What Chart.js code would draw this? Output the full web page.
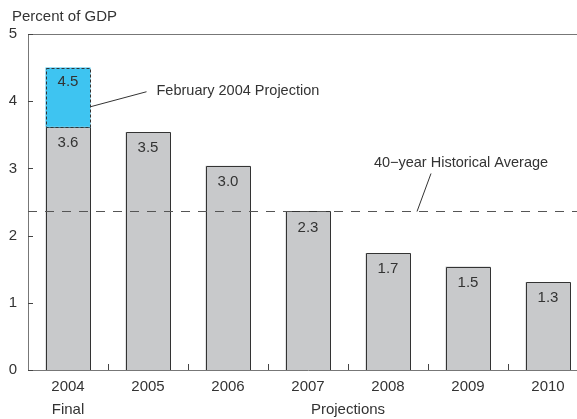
<!DOCTYPE html>
<html>
<head>
<meta charset="utf-8">
<script src="https://cdn.jsdelivr.net/npm/chart.js@4.4.1/dist/chart.umd.min.js"></script>
<style>
  html, body { margin: 0; padding: 0; background: #fff; overflow: hidden; }
  #wrap { width: 577px; height: 419px; overflow: hidden; }
</style>
</head>
<body>
<div id="wrap"><canvas id="gdpChart" width="600" height="419"></canvas></div>
<script>
const years = ["2004", "2005", "2006", "2007", "2008", "2009", "2010"];
const deficit = [3.62, 3.54, 3.04, 2.36, 1.74, 1.54, 1.31];
const deficitLabels = ["3.6", "3.5", "3.0", "2.3", "1.7", "1.5", "1.3"];
const febProjection = [4.5, null, null, null, null, null, null];
const febProjectionLabels = ["4.5", null, null, null, null, null, null];
const historicalAverage = 2.36;
const yTicks = [0, 1, 2, 3, 4, 5];

const FONT = "'Liberation Sans', Arial, sans-serif";
const TEXT = "#333";

const overlay = {
  id: "overlay",
  afterDatasetsDraw(chart) {
    const { ctx, chartArea: a, scales: { x, y } } = chart;
    ctx.save();

    const line = (x1, y1, x2, y2) => {
      ctx.beginPath();
      ctx.moveTo(x1, y1);
      ctx.lineTo(x2, y2);
      ctx.stroke();
    };

    // frame top + inner ticks
    ctx.strokeStyle = "#777";
    ctx.lineWidth = 1;
    line(a.left, a.top + 0.5, a.right, a.top + 0.5);
    ctx.strokeStyle = "#444";
    yTicks.forEach((v) => {
      const py = Math.round(y.getPixelForValue(v)) + 0.5;
      line(a.left, py, a.left + 5, py);
    });
    for (let i = 1; i < years.length; i++) {
      const px = Math.round((x.getPixelForValue(i - 1) + x.getPixelForValue(i)) / 2) + 0.5;
      line(px, a.bottom, px, a.bottom - 6);
    }

    // crisp outlines of the bars (left, top, right)
    ctx.strokeStyle = "#333";
    chart.getDatasetMeta(0).data.forEach((bar) => {
      const p = bar.getProps(["x", "y", "base", "width"], true);
      const l = Math.round(p.x - p.width / 2) + 0.5;
      const r = Math.round(p.x + p.width / 2) - 0.5;
      const t = Math.round(p.y) + 0.5;
      const b = Math.round(p.base);
      ctx.beginPath();
      ctx.moveTo(l, b);
      ctx.lineTo(l, t);
      ctx.lineTo(r, t);
      ctx.lineTo(r, b);
      ctx.stroke();
    });

    // dashed outline of the February projection
    const pm = chart.getDatasetMeta(1);
    ctx.setLineDash([3, 2]);
    pm.data.forEach((bar, i) => {
      if (febProjection[i] == null) return;
      const p = bar.getProps(["x", "y", "base", "width"], true);
      const l = Math.round(p.x - p.width / 2) + 0.5;
      const r = Math.round(p.x + p.width / 2) - 0.5;
      ctx.fillStyle = "#3ec4f1";
      ctx.fillRect(l - 0.5, Math.round(p.base) - 0.5, r - l + 1, 1);
      ctx.strokeRect(l, Math.round(p.y) + 0.5, r - l, Math.round(p.base) - Math.round(p.y));
    });
    ctx.setLineDash([]);

    // value labels
    ctx.fillStyle = TEXT;
    ctx.font = "15px " + FONT;
    ctx.textAlign = "center";
    ctx.textBaseline = "middle";
    chart.getDatasetMeta(0).data.forEach((bar, i) => {
      ctx.fillText(deficitLabels[i], bar.x, bar.y + 16);
    });
    pm.data.forEach((bar, i) => {
      if (febProjectionLabels[i] == null) return;
      ctx.fillText(febProjectionLabels[i], bar.x, bar.y + 14);
    });

    // historical average
    const ay = Math.round(y.getPixelForValue(historicalAverage)) + 0.5;
    ctx.strokeStyle = "#555";
    ctx.setLineDash([9, 8]);
    line(a.left, ay, a.right, ay);
    ctx.setLineDash([]);

    // annotations
    ctx.strokeStyle = "#333";
    const b0 = pm.data[0];
    const bRight = b0.x + b0.width / 2;
    line(bRight, b0.base - 20, bRight + 56, b0.base - 35);
    ctx.textAlign = "left";
    ctx.font = "14.5px " + FONT;
    ctx.fillText("February 2004 Projection", bRight + 66, b0.base - 36);

    const ax = x.getPixelForValue(4);
    line(ax + 29, ay, ax + 43, ay - 38);
    ctx.textAlign = "center";
    ctx.fillText("40\u2212year Historical Average", ax + 73, ay - 49);

    // title and group labels
    ctx.font = "15px " + FONT;
    ctx.textAlign = "left";
    ctx.fillText("Percent of GDP", 12, 17);
    ctx.textAlign = "center";
    ctx.fillText("Final", x.getPixelForValue(0), 410);
    ctx.fillText("Projections", (x.getPixelForValue(1) + x.getPixelForValue(6)) / 2, 410);

    ctx.restore();
  },
};

new Chart(document.getElementById("gdpChart").getContext("2d"), {
  type: "bar",
  data: {
    labels: years,
    datasets: [
      {
        label: "Deficit",
        data: deficit,
        backgroundColor: "#c8c9cb",
        borderWidth: 0,
        grouped: false,
        categoryPercentage: 1,
        barPercentage: 0.5625,
      },
      {
        label: "February 2004 Projection",
        data: febProjection.map((v, i) => (v == null ? null : [deficit[i], v])),
        backgroundColor: "#3ec4f1",
        borderWidth: 0,
        grouped: false,
        categoryPercentage: 1,
        barPercentage: 0.5625,
      },
    ],
  },
  options: {
    responsive: false,
    animation: false,
    layout: { padding: { top: 34, right: 12, left: 0, bottom: 0 } },
    plugins: {
      legend: { display: false },
      tooltip: { enabled: false },
    },
    scales: {
      x: {
        grid: { display: false, drawTicks: false },
        border: { display: true, color: "#777", width: 1 },
        ticks: { color: TEXT, font: { family: FONT, size: 15 }, padding: 8, maxRotation: 0, autoSkip: false },
        afterFit: (s) => { s.height = 49; },
      },
      y: {
        min: 0,
        max: 5,
        grid: { display: false, drawTicks: false },
        border: { display: true, color: "#777", width: 1 },
        ticks: { stepSize: 1, color: TEXT, font: { family: FONT, size: 15 }, padding: 11 },
        afterFit: (s) => { s.width = 28; },
      },
    },
  },
  plugins: [overlay],
});
</script>
</body>
</html>
